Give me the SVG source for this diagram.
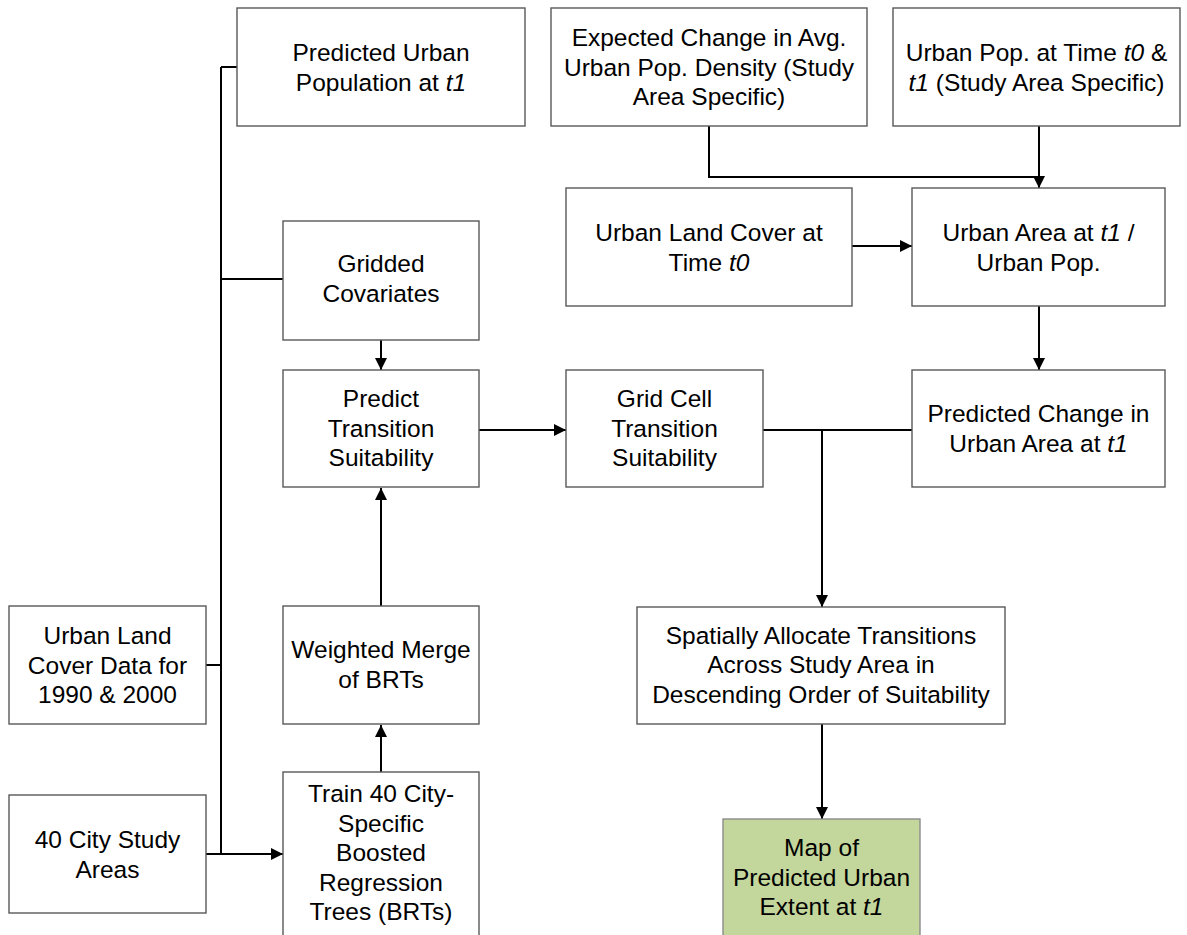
<svg xmlns="http://www.w3.org/2000/svg" width="1187" height="935" viewBox="0 0 1187 935">
  <style>
    .box { fill: #ffffff; stroke: #595959; stroke-width: 1.4; }
    .final { fill: #c3d69b; stroke: #8c8c8c; stroke-width: 1.4; }
    .lbl { font-family: "Liberation Sans", Arial, sans-serif; font-size: 24.5px; fill: #000000; text-anchor: middle; }
    .it { font-style: italic; }
    .wire { fill: none; stroke: #000000; stroke-width: 2; }
  </style>
  <defs>
    <marker id="arrow" markerUnits="userSpaceOnUse" markerWidth="14" markerHeight="14" viewBox="0 0 14 14" refX="13" refY="7" orient="auto">
      <path d="M1,1 L13,7 L1,13 Z" fill="#000000"/>
    </marker>
  </defs>

  <rect width="1187" height="935" fill="#ffffff"/>

  <!-- connectors -->
  <g id="connectors">
    <!-- left bus collecting the inputs -->
    <path class="wire" d="M221,67 L221,854"/>
    <path class="wire" d="M221,67 L237,67"/>
    <path class="wire" d="M221,279 L283,279"/>
    <path class="wire" d="M206,665 L221,665"/>
    <path class="wire" d="M206,854 L283,854" marker-end="url(#arrow)"/>
    <!-- BRT chain -->
    <path class="wire" d="M381,772 L381,725" marker-end="url(#arrow)"/>
    <path class="wire" d="M381,607 L381,488" marker-end="url(#arrow)"/>
    <path class="wire" d="M381,340 L381,370" marker-end="url(#arrow)"/>
    <path class="wire" d="M479,430 L566,430" marker-end="url(#arrow)"/>
    <!-- top-right population branch -->
    <path class="wire" d="M709,126 L709,177 L1039,177"/>
    <path class="wire" d="M1039,126 L1039,188" marker-end="url(#arrow)"/>
    <path class="wire" d="M852,246 L912,246" marker-end="url(#arrow)"/>
    <path class="wire" d="M1039,306 L1039,370" marker-end="url(#arrow)"/>
    <!-- merge into allocation -->
    <path class="wire" d="M763,430 L912,430"/>
    <path class="wire" d="M822,430 L822,607" marker-end="url(#arrow)"/>
    <path class="wire" d="M822,724 L822,819" marker-end="url(#arrow)"/>
  </g>

  <g id="pred-urban-pop">
    <rect class="box" x="237" y="8" width="288" height="118"/>
    <text class="lbl" x="381" y="61">Predicted Urban<tspan x="381" dy="29.5">Population at <tspan class="it">t1</tspan></tspan></text>
  </g>

  <g id="expected-density">
    <rect class="box" x="551" y="8" width="316" height="118"/>
    <text class="lbl" x="709" y="46">Expected Change in Avg.<tspan x="709" dy="29.5">Urban Pop. Density (Study</tspan><tspan x="709" dy="29.5">Area Specific)</tspan></text>
  </g>

  <g id="urban-pop-time">
    <rect class="box" x="893" y="8" width="287" height="118"/>
    <text class="lbl" x="1036.5" y="61">Urban Pop. at Time <tspan class="it">t0</tspan> &amp;<tspan x="1036.5" dy="29.5"><tspan class="it">t1</tspan> (Study Area Specific)</tspan></text>
  </g>

  <g id="urban-cover-t0">
    <rect class="box" x="566" y="188" width="286" height="118"/>
    <text class="lbl" x="709" y="241">Urban Land Cover at<tspan x="709" dy="29.5">Time <tspan class="it">t0</tspan></tspan></text>
  </g>

  <g id="urban-area-ratio">
    <rect class="box" x="912" y="188" width="253" height="118"/>
    <text class="lbl" x="1038.5" y="241">Urban Area at <tspan class="it">t1</tspan> /<tspan x="1038.5" dy="29.5">Urban Pop.</tspan></text>
  </g>

  <g id="gridded-covariates">
    <rect class="box" x="283" y="221" width="196" height="119"/>
    <text class="lbl" x="381" y="272">Gridded<tspan x="381" dy="29.5">Covariates</tspan></text>
  </g>

  <g id="predict-suitability">
    <rect class="box" x="283" y="370" width="196" height="117"/>
    <text class="lbl" x="381" y="407">Predict<tspan x="381" dy="29.5">Transition</tspan><tspan x="381" dy="29.5">Suitability</tspan></text>
  </g>

  <g id="grid-cell-suitability">
    <rect class="box" x="566" y="370" width="197" height="117"/>
    <text class="lbl" x="664.5" y="407">Grid Cell<tspan x="664.5" dy="29.5">Transition</tspan><tspan x="664.5" dy="29.5">Suitability</tspan></text>
  </g>

  <g id="pred-change-area">
    <rect class="box" x="912" y="370" width="253" height="117"/>
    <text class="lbl" x="1038.5" y="422">Predicted Change in<tspan x="1038.5" dy="29.5">Urban Area at <tspan class="it">t1</tspan></tspan></text>
  </g>

  <g id="land-cover-data">
    <rect class="box" x="9" y="606" width="197" height="118"/>
    <text class="lbl" x="107.5" y="644">Urban Land<tspan x="107.5" dy="29.5">Cover Data for</tspan><tspan x="107.5" dy="29.5">1990 &amp; 2000</tspan></text>
  </g>

  <g id="weighted-merge">
    <rect class="box" x="283" y="606" width="196" height="118"/>
    <text class="lbl" x="381" y="658">Weighted Merge<tspan x="381" dy="29.5">of BRTs</tspan></text>
  </g>

  <g id="spatial-allocation">
    <rect class="box" x="637" y="607" width="368" height="117"/>
    <text class="lbl" x="821" y="643.5">Spatially Allocate Transitions<tspan x="821" dy="29.5">Across Study Area in</tspan><tspan x="821" dy="29.5">Descending Order of Suitability</tspan></text>
  </g>

  <g id="city-study-areas">
    <rect class="box" x="9" y="795" width="197" height="118"/>
    <text class="lbl" x="107.5" y="848">40 City Study<tspan x="107.5" dy="29.5">Areas</tspan></text>
  </g>

  <g id="train-brts">
    <rect class="box" x="283" y="772" width="196" height="170"/>
    <text class="lbl" x="381" y="802">Train 40 City-<tspan x="381" dy="29.5">Specific</tspan><tspan x="381" dy="29.5">Boosted</tspan><tspan x="381" dy="29.5">Regression</tspan><tspan x="381" dy="29.5">Trees (BRTs)</tspan></text>
  </g>

  <g id="urban-extent-map">
    <rect class="final" x="723" y="819" width="197" height="125"/>
    <text class="lbl" x="821.5" y="856">Map of<tspan x="821.5" dy="29.5">Predicted Urban</tspan><tspan x="821.5" dy="29.5">Extent at <tspan class="it">t1</tspan></tspan></text>
  </g>
</svg>
